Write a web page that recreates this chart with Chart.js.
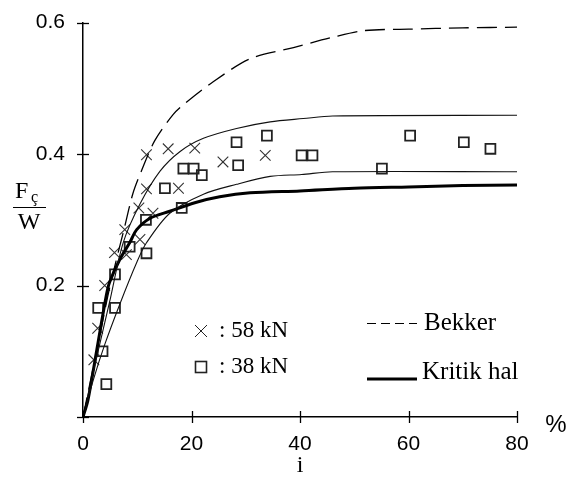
<!DOCTYPE html>
<html><head><meta charset="utf-8">
<script src="https://cdn.jsdelivr.net/npm/chart.js@4/dist/chart.umd.min.js"></script>
<style>html,body{margin:0;padding:0;background:#fff;}</style>
</head><body>
<canvas id="c" width="568" height="483"></canvas>
<script>
// ---- data ----
const xTickValues = [0, 20, 40, 60, 80];
const yTickValues = [0, 0.2, 0.4, 0.6];

const bekkerX = [0, 3, 5, 7.7, 9.2, 10.8, 13.2, 16.6, 18.8, 24, 30.8, 38.8, 46.2, 52, 60, 70, 80];
const bekkerY = [0, 0.12, 0.2, 0.29, 0.34, 0.375, 0.42, 0.46, 0.477, 0.51, 0.545, 0.562, 0.578, 0.588, 0.59, 0.592, 0.593];

const upperX = [0, 2.5, 4.9, 7.4, 10.5, 14.2, 17.9, 22.2, 28.3, 34.5, 40.6, 46, 80];
const upperY = [0, 0.09, 0.175, 0.265, 0.324, 0.374, 0.404, 0.424, 0.439, 0.449, 0.454, 0.458, 0.459];

const lowerX = [0, 1.85, 4, 6.8, 9.9, 11.7, 16, 22.2, 28.3, 34.5, 40.3, 46, 80];
const lowerY = [0, 0.055, 0.11, 0.172, 0.235, 0.265, 0.31, 0.339, 0.354, 0.366, 0.369, 0.373, 0.373];

const kritikX = [0, 0.9, 2.5, 4.3, 4.9, 6.8, 8.6, 9.9, 12.3, 16, 20.6, 25.2, 30.8, 40, 50, 60, 70, 80];
const kritikY = [0, 0.025, 0.1, 0.185, 0.205, 0.24, 0.265, 0.285, 0.302, 0.313, 0.326, 0.335, 0.341, 0.344, 0.348, 0.35, 0.352, 0.353];

const kn58X = [2.0, 2.7, 4.0, 5.8, 7.7, 8.0, 10.3, 10.5, 12.9, 11.7, 11.7, 15.7, 20.6, 17.6, 25.8, 33.6];
const kn58Y = [0.087, 0.135, 0.2, 0.25, 0.285, 0.247, 0.318, 0.27, 0.31, 0.347, 0.399, 0.408, 0.409, 0.348, 0.388, 0.398];

const kn38X = [4.3, 3.6, 2.8, 5.9, 5.9, 8.6, 11.6, 11.7, 15.1, 18.2, 18.5, 20.4, 21.9, 28.3, 28.6, 33.9, 40.3, 42.3, 55.1, 60.3, 70.2, 75.1];
const kn38Y = [0.05, 0.1, 0.166, 0.166, 0.217, 0.259, 0.3, 0.249, 0.348, 0.318, 0.378, 0.378, 0.368, 0.418, 0.383, 0.428, 0.398, 0.398, 0.378, 0.428, 0.418, 0.408];

const legendLabels = [': 58 kN', ': 38 kN', 'Bekker', 'Kritik hal'];
const xUnit = '%';
const xTitle = 'i';

const pts = (xs, ys) => xs.map((x, i) => ({ x: x, y: ys[i] }));
const SERIF = '"Liberation Serif", "Times New Roman", serif';
const SANS = '"Liberation Sans", Arial, sans-serif';

const crossTicks = {
  id: 'crossTicks',
  afterDraw(chart) {
    const ctx = chart.ctx, xs = chart.scales.x, ys = chart.scales.y;
    ctx.save();
    ctx.strokeStyle = '#000';
    ctx.lineWidth = 1.3;
    xTickValues.forEach(v => {
      const px = Math.round(xs.getPixelForValue(v)) + 0.5;
      const py = ys.getPixelForValue(0);
      ctx.beginPath(); ctx.moveTo(px, py - 6); ctx.lineTo(px, py + 6); ctx.stroke();
    });
    yTickValues.forEach(v => {
      const py = Math.round(ys.getPixelForValue(v)) + 0.5;
      const px = xs.getPixelForValue(0);
      ctx.beginPath(); ctx.moveTo(px - 6, py); ctx.lineTo(px + 6, py); ctx.stroke();
    });
    // unit
    ctx.fillStyle = '#000';
    ctx.font = '24px ' + SANS;
    ctx.textAlign = 'center'; ctx.textBaseline = 'middle';
    ctx.fillText(xUnit, 556, 425);

    // y axis title: F_ç / W
    ctx.font = '24px ' + SERIF;
    ctx.textAlign = 'left'; ctx.textBaseline = 'alphabetic';
    ctx.fillText('F', 15, 198);
    ctx.font = '16px ' + SERIF;
    ctx.fillText('ç', 31, 202);
    ctx.beginPath(); ctx.lineWidth = 1; ctx.moveTo(13, 207.5); ctx.lineTo(46, 207.5); ctx.stroke();
    ctx.font = '24px ' + SERIF;
    ctx.textAlign = 'center';
    ctx.fillText('W', 29, 229);

    // legend
    const r1 = 331, r2 = 367, q1 = 323, q2 = 372;
    ctx.strokeStyle = '#222'; ctx.lineWidth = 1;
    let lx = 201;
    ctx.beginPath(); ctx.moveTo(lx - 6, r1 - 6); ctx.lineTo(lx + 6, r1 + 6); ctx.moveTo(lx + 6, r1 - 6); ctx.lineTo(lx - 6, r1 + 6); ctx.stroke();
    ctx.lineWidth = 1.6;
    ctx.strokeRect(lx - 5.5, r2 - 5.5, 11, 11);
    ctx.fillStyle = '#000';
    ctx.font = '23px ' + SERIF;
    ctx.textAlign = 'left'; ctx.textBaseline = 'middle';
    ctx.fillText(legendLabels[0], 219, r1);
    ctx.fillText(legendLabels[1], 219, r2);
    ctx.strokeStyle = '#000'; ctx.lineWidth = 1.2;
    ctx.setLineDash([9, 5]);
    ctx.beginPath(); ctx.moveTo(367, q1 + 0.5); ctx.lineTo(417, q1 + 0.5); ctx.stroke();
    ctx.setLineDash([]);
    ctx.lineWidth = 3;
    ctx.beginPath(); ctx.moveTo(367, q2 + 7); ctx.lineTo(417, q2 + 7); ctx.stroke();
    ctx.font = '25px ' + SERIF;
    ctx.fillText(legendLabels[2], 424, q1);
    ctx.fillText(legendLabels[3], 422, q2);
    ctx.restore();
  }
};

new Chart(document.getElementById('c'), {
  type: 'scatter',
  data: {
    datasets: [
      { type: 'line', data: pts(bekkerX, bekkerY), borderColor: '#000', borderWidth: 1.3, borderDash: [20, 8], pointRadius: 0, tension: 0.3, fill: false },
      { type: 'line', data: pts(upperX, upperY), borderColor: '#111', borderWidth: 1.1, pointRadius: 0, tension: 0.3, fill: false },
      { type: 'line', data: pts(lowerX, lowerY), borderColor: '#111', borderWidth: 1.1, pointRadius: 0, tension: 0.3, fill: false },
      { type: 'line', data: pts(kritikX, kritikY), borderColor: '#000', borderWidth: 3, pointRadius: 0, tension: 0.3, fill: false },
      { data: pts(kn58X, kn58Y), pointStyle: 'crossRot', pointRadius: 7.5, borderColor: '#333', borderWidth: 1.1, backgroundColor: 'transparent' },
      { data: pts(kn38X, kn38Y), pointStyle: 'rect', pointRadius: 7, borderColor: '#222', borderWidth: 1.8, backgroundColor: 'transparent' }
    ]
  },
  options: {
    responsive: false,
    devicePixelRatio: 1,
    animation: false,
    layout: { padding: { left: 0, right: 51, top: 16, bottom: 3 } },
    plugins: { legend: { display: false }, tooltip: { enabled: false } },
    scales: {
      x: {
        type: 'linear', min: 0, max: 80,
        afterFit: s => { s.height = 63; },
        afterBuildTicks: s => { s.ticks = xTickValues.map(v => ({ value: v })); },
        grid: { display: false },
        border: { display: true, color: '#000', width: 1.5 },
        ticks: { color: '#000', padding: 7, font: { family: SANS, size: 21 } },
        title: { display: true, text: xTitle, color: '#000', padding: { top: 0, bottom: 0 }, font: { family: SERIF, size: 24 } }
      },
      y: {
        type: 'linear', min: 0, max: 0.6,
        afterFit: s => { s.width = 83; },
        afterBuildTicks: s => { s.ticks = yTickValues.map(v => ({ value: v })); },
        grid: { display: false },
        border: { display: true, color: '#000', width: 1.5 },
        ticks: { color: '#000', padding: 10, font: { family: SANS, size: 21 },
          callback: v => v === 0 ? '' : v.toFixed(1) }
      }
    }
  },
  plugins: [crossTicks]
});
</script>
</body></html>
